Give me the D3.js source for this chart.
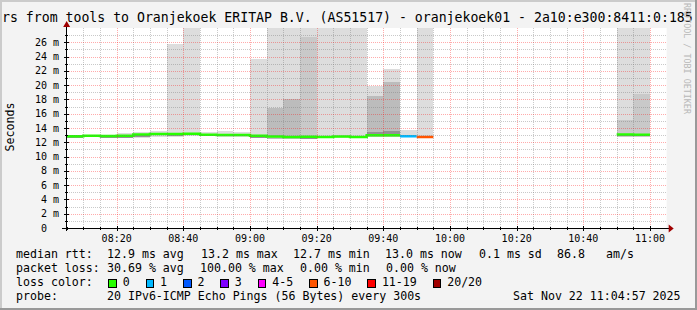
<!DOCTYPE html>
<html><head><meta charset="utf-8">
<script src="https://cdn.jsdelivr.net/npm/d3@7/dist/d3.min.js"></script>
<style>
body{margin:0;background:#f3f3f3}
svg{display:block}
text{font-family:"DejaVu Sans Mono",monospace;fill:#000}
</style>
</head><body>
<svg id="c" width="697" height="310"></svg>
<script>
// ---------------- data ----------------
const titleText = "rs from tools to Oranjekoek ERITAP B.V. (AS51517) - oranjekoek01 - 2a10:e300:8411:0:185";
const axisStart = "08:05";
const axisEnd = "11:05";
const binMinutes = 5;
const binStart = ["08:05","08:10","08:15","08:20","08:25","08:30","08:35","08:40","08:45","08:50","08:55",
  "09:00","09:05","09:10","09:15","09:20","09:25","09:30","09:35","09:40","09:45","09:50","09:55",
  "10:00","10:05","10:10","10:15","10:20","10:25","10:30","10:35","10:40","10:45","10:50","10:55","11:00"];
// median rtt (ms) per 5-minute bin
const medianMs = [12.84,12.93,12.88,12.93,13.10,13.16,13.16,13.20,13.07,13.02,13.02,
  12.90,12.80,12.75,12.78,12.74,12.80,12.74,13.00,13.00,12.84,12.74,
  null,null,null,null,null,null,null,null,null,null,null,13.10,13.05,null];
// lost pings (of 20) per bin
const lostPings = [0,0,0,0,0,0,0,0,0,0,0,
  0,0,0,0,0,0,0,0,0,1,8,
  20,20,20,20,20,20,20,20,20,20,20,0,0,null];
// smoke layers [low, high] ms, outer (lightest) to core (darkest)
const smokeOuter = [[12.55,12.98],[12.70,13.02],[12.60,13.00],[12.55,13.26],[12.60,13.50],[12.80,13.60],
  [12.80,25.76],[12.90,28],[12.85,13.40],[12.80,13.58],[12.80,13.50],
  [12.55,23.66],[12.45,28],[12.40,28],[12.40,28],[12.55,28],[12.60,28],[12.55,28],[12.70,19.90],[12.80,22.20],[12.70,13.67],[12.60,28],
  null,null,null,null,null,null,null,null,null,null,null,[12.70,28],[12.80,28],null];
const smokeMid = [null,null,null,null,null,null,null,null,null,null,null,
  null,null,null,[12.40,26.80],null,null,null,null,null,null,null,
  null,null,null,null,null,null,null,null,null,null,null,[12.70,15.12],[12.80,18.76],null];
const smokeInner = [null,null,null,null,null,null,null,null,null,null,null,
  null,[12.45,16.84],[12.40,18.06],null,null,null,null,[12.70,18.50],[12.80,20.40],null,null,
  null,null,null,null,null,null,null,null,null,null,null,null,null,null];
const smokeCore = [[12.60,12.80],null,[12.60,12.85],[12.65,12.90],[12.75,13.05],null,
  [12.95,13.10],[13.00,13.15],null,null,null,
  [12.60,12.85],null,null,[12.45,12.70],[12.60,12.72],null,null,[12.85,13.50],[12.90,13.60],null,null,
  null,null,null,null,null,null,null,null,null,null,null,[12.85,13.20],null,null];
const yTickValues = [0,2,4,6,8,10,12,14,16,18,20,22,24,26];
const yTickLabels = ["0","2 m","4 m","6 m","8 m","10 m","12 m","14 m","16 m","18 m","20 m","22 m","24 m","26 m"];
const xTickLabels = ["08:20","08:40","09:00","09:20","09:40","10:00","10:20","10:40","11:00"];
const lossNames = ["0","1","2","3","4-5","6-10","11-19","20/20"];
const lossColors = ["#26ff00","#00b8ff","#0059ff","#7e00ff","#ff00ff","#ff5500","#ff0000","#a10000"];
const legendRows = [
  [["median rtt:",16],["12.9 ms avg",107],["13.2 ms max",201],["12.7 ms min",293],["13.0 ms now",385],["0.1 ms sd",479],["86.8",557],["am/s",606]],
  [["packet loss:",16],["30.69 % avg",107],["100.00 % max",200],["0.00 % min",300],["0.00 % now",386]],
  [["loss color:",16]],
  [["probe:",16],["20 IPv6-ICMP Echo Pings (56 Bytes) every 300s",107],["Sat Nov 22 11:04:57 2025",513]]
];

// ---------------- layout ----------------
const W = 697, H = 310;
const L = 66.67, R = 666.67, T = 28, B = 228;
const svg = d3.select("#c");
const pt = s => { const [h,m] = s.split(":").map(Number); return new Date(2025,10,22,h,m); };
const x = d3.scaleTime().domain([pt(axisStart), pt(axisEnd)]).range([L, R]);
const y = d3.scaleLinear().domain([0, 28]).range([B, T]);
const lossIndex = n => n==null?null: n===0?0: n===1?1: n===2?2: n===3?3: n<=5?4: n<=10?5: n<=19?6: 7;

// background + frame
svg.append("rect").attr("width",W).attr("height",H).attr("fill","#f3f3f3");
svg.append("rect").attr("x",0).attr("y",0).attr("width",W).attr("height",2).attr("fill","#cbcbcb");
svg.append("rect").attr("x",0).attr("y",0).attr("width",2).attr("height",H).attr("fill","#cbcbcb");
svg.append("rect").attr("x",W-2).attr("y",0).attr("width",2).attr("height",H).attr("fill","#999");
svg.append("rect").attr("x",0).attr("y",H-2).attr("width",W).attr("height",2).attr("fill","#999");
svg.append("rect").attr("x",L).attr("y",T).attr("width",R-L).attr("height",B-T).attr("fill","#fff");

svg.append("clipPath").attr("id","pc").append("rect").attr("x",L).attr("y",T).attr("width",R-L).attr("height",B-T);
const plot = svg.append("g").attr("clip-path","url(#pc)");

// smoke
const binEnd = s => d3.timeMinute.offset(pt(s), binMinutes);
function drawLayer(arr, color){
  plot.append("g").selectAll("rect").data(binStart.map((s,i)=>({s, v:arr[i]})).filter(d=>d.v))
    .join("rect")
    .attr("x", d=>x(pt(d.s)))
    .attr("width", d=>x(binEnd(d.s))-x(pt(d.s)))
    .attr("y", d=>y(d.v[1]))
    .attr("height", d=>y(d.v[0])-y(d.v[1]))
    .attr("fill", color)
    .attr("shape-rendering","crispEdges");
}
drawLayer(smokeOuter, "#dddddd");
drawLayer(smokeMid, "#c9c9c9");
drawLayer(smokeInner, "#bcbcbc");
drawLayer(smokeCore, "#929292");

// grid
const grid = svg.append("g").attr("shape-rendering","crispEdges");
const snap = v => Math.round(v) + 0.5;
const minorT = d3.timeMinute.every(5).range(pt(axisStart), pt(axisEnd));
minorT.forEach(t=>{
  const major = t.getMinutes() % 20 === 0;
  if (x(t) <= L + 0.5) return;
  grid.append("line").attr("x1",snap(x(t))-0.5).attr("x2",snap(x(t))-0.5).attr("y1",T).attr("y2",B)
    .attr("stroke", major ? "rgba(255,0,0,0.33)" : "rgba(120,120,120,0.4)")
    .attr("stroke-dasharray","1,1");
});
d3.range(1, 28).forEach(v=>{
  const major = v % 2 === 0;
  grid.append("line").attr("x1",L).attr("x2",R).attr("y1",snap(y(v))-0.5).attr("y2",snap(y(v))-0.5)
    .attr("stroke", major ? "rgba(255,0,0,0.33)" : "rgba(120,120,120,0.4)")
    .attr("stroke-dasharray","1,1");
});

// median lines per loss colour
const bins = binStart.map((s,i)=>({s, m:medianMs[i], c:lossIndex(lostPings[i])}));
const line = d3.line().x(d=>d[0]).y(d=>d[1]).curve(d3.curveStepAfter);
let run = [];
function flush(){
  if(!run.length) return;
  const pts = run.map(d=>[x(pt(d.s)), y(d.m)]);
  const last = run[run.length-1];
  pts.push([x(binEnd(last.s)), y(last.m)]);
  plot.append("path").attr("d", line(pts)).attr("fill","none")
    .attr("stroke", lossColors[last.c]).attr("stroke-width",2.5);
  run = [];
}
bins.forEach(d=>{
  if (d.m == null) { flush(); return; }
  if (run.length && run[run.length-1].c !== d.c) flush();
  run.push(d);
});
flush();

// axes
const ax = svg.append("g").attr("shape-rendering","crispEdges");
ax.append("line").attr("x1",62).attr("x2",669).attr("y1",B+0.5).attr("y2",B+0.5).attr("stroke","#000");
ax.append("line").attr("x1",L-0.17).attr("x2",L-0.17).attr("y1",B+3).attr("y2",T-2).attr("stroke","#000");
minorT.forEach(t=>{
  const major = t.getMinutes() % 20 === 0;
  const xx = snap(x(t))-0.5;
  ax.append("line").attr("x1",xx).attr("x2",xx).attr("y1",B-(major?2:1)).attr("y2",B+(major?3:2)).attr("stroke","#000");
});
d3.range(0, 28).forEach(v=>{
  const major = v % 2 === 0;
  const yy = snap(y(v))-0.5;
  ax.append("line").attr("x1",L-(major?3:2)).attr("x2",L+(major?2:1)).attr("y1",yy).attr("y2",yy).attr("stroke","#000");
});
// arrows
svg.append("path").attr("d",`M${L-3.5},${T-1}L${L+3.5},${T-1}L${L},${T-7}Z`).attr("fill","#a00000");
svg.append("path").attr("d",`M${R+2},${B-3.5}L${R+2},${B+4.5}L${R+7},${B+0.5}Z`).attr("fill","#a00000");

// tick labels
const yl = svg.append("g").style("font-size","10px");
yTickValues.forEach((v,i)=>{
  yl.append("text").attr("x", v===0 ? 47 : 59).attr("y", y(v)).attr("dy","0.36em")
    .attr("text-anchor","end").text(yTickLabels[i]);
});
const xl = svg.append("g").style("font-size","10px");
xTickLabels.forEach(s=>{
  xl.append("text").attr("x", x(pt(s))).attr("y", 242).attr("text-anchor","middle").text(s);
});

// title & axis label
svg.append("text").attr("x",2).attr("y",22).style("font-size","13.2px").text(titleText);
svg.append("text").attr("transform","translate(14,127) rotate(-90)").attr("text-anchor","middle")
  .style("font-size","11.6px").text("Seconds");
svg.append("text").attr("transform","translate(684,3) rotate(90)").attr("text-anchor","start")
  .style("font-size","8.4px").style("fill","#b8b8b8").text("RRDTOOL / TOBI OETIKER");

// legend
const baselines = [258, 272, 286, 300];
const lg = svg.append("g").style("font-size","11.6px");
legendRows.forEach((row,r)=>{
  row.forEach(([t,xx])=>{
    lg.append("text").attr("x",xx).attr("y",baselines[r]).attr("xml:space","preserve").text(t);
  });
});
let textEnd = 92.3;
lossNames.forEach((n,i)=>{
  const bx = textEnd + 16;
  lg.append("rect").attr("x",bx+0.5).attr("y",279.5).attr("width",7.5).attr("height",7.5)
    .attr("fill",lossColors[i]).attr("stroke","#000").attr("stroke-width",1).attr("shape-rendering","crispEdges");
  const tx = bx + 14.4;
  lg.append("text").attr("x",tx).attr("y",baselines[2]).text(n);
  textEnd = tx + n.length * 6.98;
});
</script>
</body></html>
